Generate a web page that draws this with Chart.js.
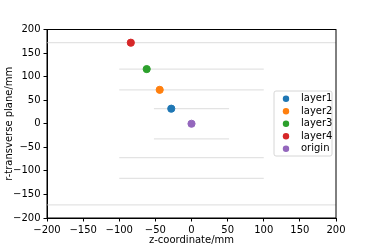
<!DOCTYPE html>
<html>
<head>
<meta charset="utf-8">
<script src="https://cdn.jsdelivr.net/npm/chart.js@4/dist/chart.umd.min.js"></script>
<style>
  html, body { margin: 0; padding: 0; background: #fff; }
  #chart { display: block; }
</style>
</head>
<body>
<canvas id="chart" width="374" height="249"></canvas>
<script>
// podaci s grafa
const layerNames = ["layer1", "layer2", "layer3", "layer4", "origin"];
const layerColors = ["#1f77b4", "#ff7f0e", "#2ca02c", "#d62728", "#9467bd"];
const pointZ = [-28, -44, -62, -84, 0];
const pointR = [32, 72, 116, 172, 0];
// ravnine (sive linije): r i poluširina po z
const planeR = [172, 116, 72, 32, -32, -72, -116, -172];
const planeHalf = [200, 100, 100, 52, 52, 100, 100, 200];
const xTicks = [-200, -150, -100, -50, 0, 50, 100, 150, 200];
const yTicks = [-200, -150, -100, -50, 0, 50, 100, 150, 200];

const FONT = "'DejaVu Sans', sans-serif";
const minus = (v) => String(v).replace("-", "\u2212");

const datasets = [];
planeR.forEach(function (r, i) {
  datasets.push({
    type: "line",
    label: "",
    data: [{ x: -planeHalf[i], y: r }, { x: planeHalf[i], y: r }],
    borderColor: "#e3e3e3",
    borderWidth: 1.3,
    pointRadius: 0,
    order: 10,
  });
});
layerNames.forEach(function (name, i) {
  datasets.push({
    type: "scatter",
    label: name,
    data: [{ x: pointZ[i], y: pointR[i] }],
    backgroundColor: layerColors[i],
    borderColor: layerColors[i],
    pointRadius: 3.6,
    order: 1,
  });
});

// okvir oko područja grafa + legenda unutar grafa
const framePlugin = {
  id: "frame",
  afterDraw(chart) {
    const ctx = chart.ctx;
    const a = chart.chartArea;
    ctx.save();
    ctx.strokeStyle = "#000";
    ctx.lineWidth = 1;
    ctx.strokeRect(a.left, a.top, a.right - a.left, a.bottom - a.top);

    // legenda
    const bx = 274, by = 91, bw = 58, bh = 65, rad = 2;
    ctx.fillStyle = "rgba(255,255,255,0.8)";
    ctx.strokeStyle = "#d6d6d6";
    ctx.beginPath();
    ctx.moveTo(bx + rad, by);
    ctx.arcTo(bx + bw, by, bx + bw, by + bh, rad);
    ctx.arcTo(bx + bw, by + bh, bx, by + bh, rad);
    ctx.arcTo(bx, by + bh, bx, by, rad);
    ctx.arcTo(bx, by, bx + bw, by, rad);
    ctx.closePath();
    ctx.fill();
    ctx.stroke();

    ctx.font = "10px " + FONT;
    ctx.textBaseline = "middle";
    ctx.textAlign = "left";
    layerNames.forEach(function (name, i) {
      const y = 98.7 + i * 12.5;
      ctx.fillStyle = layerColors[i];
      ctx.beginPath();
      ctx.arc(286, y, 3.2, 0, Math.PI * 2);
      ctx.fill();
      ctx.fillStyle = "#000";
      ctx.fillText(name, 301, y);
    });
    ctx.restore();
  },
};

new Chart(document.getElementById("chart").getContext("2d"), {
  type: "scatter",
  data: { datasets: datasets },
  options: {
    responsive: false,
    animation: false,
    layout: { padding: { left: 0, top: 29.5, right: 38, bottom: 0 } },
    plugins: { legend: { display: false }, tooltip: { enabled: false } },
    scales: {
      x: {
        type: "linear",
        min: -200,
        max: 200,
        afterFit: function (s) { s.height = 31; },
        afterBuildTicks: function (s) { s.ticks = xTicks.map((v) => ({ value: v })); },
        grid: { drawOnChartArea: false, drawTicks: true, tickLength: 3.5, color: "#000" },
        border: { display: true, color: "#000" },
        ticks: { color: "#000", font: { family: FONT, size: 10 }, padding: 3, maxRotation: 0, callback: minus },
        title: { display: true, text: "z-coordinate/mm", color: "#000", font: { family: FONT, size: 10 }, padding: { top: 0, bottom: 3 } },
      },
      y: {
        type: "linear",
        min: -200,
        max: 200,
        afterFit: function (s) { s.width = 47; },
        afterBuildTicks: function (s) { s.ticks = yTicks.map((v) => ({ value: v })); },
        grid: { drawOnChartArea: false, drawTicks: true, tickLength: 3.5, color: "#000" },
        border: { display: true, color: "#000" },
        ticks: { color: "#000", font: { family: FONT, size: 10 }, padding: 3, callback: minus },
        title: { display: true, text: "r-transverse plane/mm", color: "#000", font: { family: FONT, size: 10 }, padding: { top: 3.5, bottom: 0 } },
      },
    },
  },
  plugins: [framePlugin],
});
</script>
</body>
</html>
